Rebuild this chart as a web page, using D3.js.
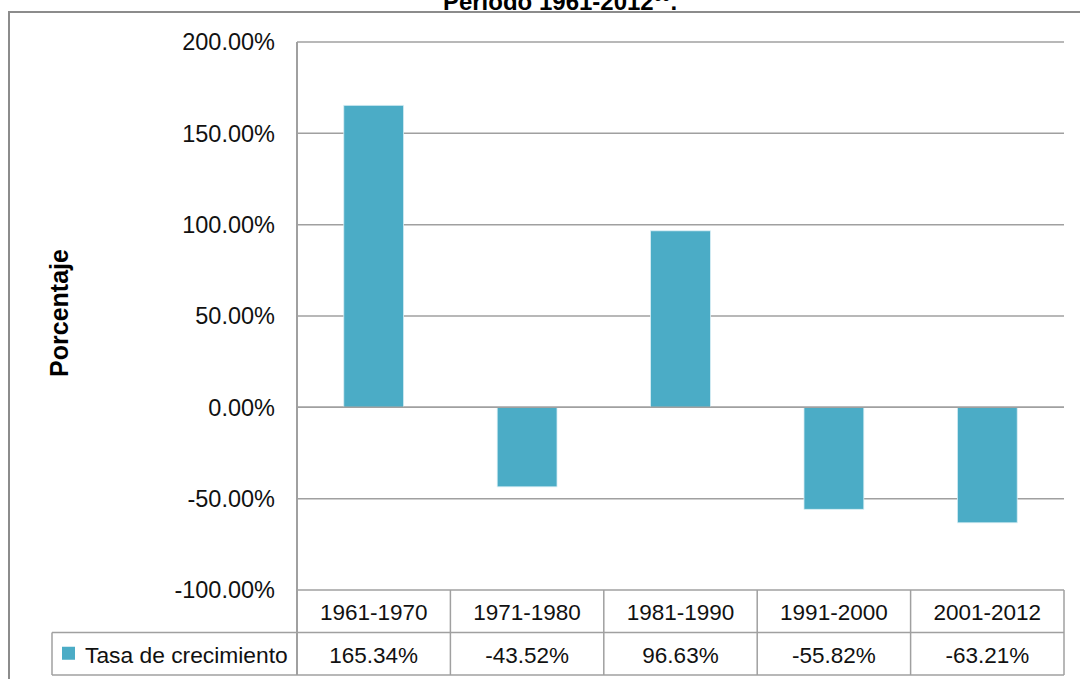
<!DOCTYPE html>
<html>
<head>
<meta charset="utf-8">
<script src="https://cdn.jsdelivr.net/npm/d3@7"></script>
<style>
  body { margin: 0; background: #fff; }
  svg { display: block; font-family: "Liberation Sans", Arial, sans-serif; }
</style>
</head>
<body>
<div id="chart"></div>
<script>
const categories = ["1961-1970", "1971-1980", "1981-1990", "1991-2000", "2001-2012"];
const values = [165.34, -43.52, 96.63, -55.82, -63.21];
const valueLabels = ["165.34%", "-43.52%", "96.63%", "-55.82%", "-63.21%"];
const yTicks = [200, 150, 100, 50, 0, -50, -100];
const seriesName = "Tasa de crecimiento";

const W = 1080, H = 679;
const plotLeft = 297, plotRight = 1064, plotTop = 42, plotBottom = 590;
const rowH = 42.5;

const svg = d3.select("#chart").append("svg")
  .attr("width", W).attr("height", H);

// outer chart border
svg.append("rect")
  .attr("x", 9).attr("y", 12)
  .attr("width", W + 20).attr("height", H + 20)
  .attr("fill", "none").attr("stroke", "#8c8c8c").attr("stroke-width", 2);

// clipped title
svg.append("text")
  .attr("x", 560).attr("y", 10)
  .attr("text-anchor", "middle")
  .style("font-size", "24px").style("font-weight", "bold").attr("fill", "#000")
  .call(t => {
    t.append("tspan").text("Periodo 1961-2012");
    t.append("tspan").attr("dy", -9).style("font-size", "15px").text("60");
    t.append("tspan").attr("dy", 9).text(".");
  });

const x = d3.scaleBand().domain(categories).range([plotLeft, plotRight]).paddingInner(0.61).paddingOuter(0.305);
const xCol = d3.scaleBand().domain(categories).range([plotLeft, plotRight]);
const y = d3.scaleLinear().domain([-100, 200]).range([plotBottom, plotTop]);

// gridlines
svg.append("g").selectAll("line").data(yTicks).join("line")
  .attr("x1", plotLeft).attr("x2", plotRight)
  .attr("y1", d => y(d)).attr("y2", d => y(d))
  .attr("stroke", "#a0a0a0").attr("stroke-width", 1.5);

// y tick labels
svg.append("g").selectAll("text").data(yTicks).join("text")
  .attr("x", 275).attr("y", d => y(d))
  .attr("dy", "0.36em")
  .attr("text-anchor", "end")
  .style("font-size", "23.5px").attr("fill", "#111")
  .text(d => d.toFixed(2) + "%");

// bars
svg.append("g").selectAll("rect").data(values).join("rect")
  .attr("x", (d, i) => x(categories[i]))
  .attr("width", x.bandwidth())
  .attr("y", d => y(Math.max(0, d)))
  .attr("height", d => Math.abs(y(d) - y(0)))
  .attr("fill", "#4bacc6")
  .attr("stroke", "#d8eef4").attr("stroke-width", 0.8);

// zero line over bars
svg.append("line")
  .attr("x1", plotLeft).attr("x2", plotRight).attr("y1", y(0)).attr("y2", y(0))
  .attr("stroke", "#a0a0a0").attr("stroke-width", 1.5);

// y axis
const tableBottom = plotBottom + 2 * rowH;
svg.append("line")
  .attr("x1", plotLeft).attr("x2", plotLeft).attr("y1", plotTop).attr("y2", tableBottom)
  .attr("stroke", "#a0a0a0").attr("stroke-width", 2);

// data table
const legendLeft = 52;
const tbl = svg.append("g").attr("stroke", "#a0a0a0").attr("stroke-width", 1.5);
tbl.append("line").attr("x1", legendLeft).attr("x2", plotRight)
  .attr("y1", plotBottom + rowH).attr("y2", plotBottom + rowH);
tbl.append("line").attr("x1", legendLeft).attr("x2", plotRight)
  .attr("y1", tableBottom).attr("y2", tableBottom);
tbl.append("line").attr("x1", legendLeft).attr("x2", legendLeft)
  .attr("y1", plotBottom + rowH).attr("y2", tableBottom);
tbl.selectAll(".col").data(categories).join("line")
  .attr("class", "col")
  .attr("x1", d => xCol(d) + xCol.bandwidth()).attr("x2", d => xCol(d) + xCol.bandwidth())
  .attr("y1", plotBottom).attr("y2", tableBottom);

svg.append("g").selectAll("text").data(categories).join("text")
  .attr("x", d => xCol(d) + xCol.bandwidth() / 2)
  .attr("y", plotBottom + rowH / 2 + 1)
  .attr("dy", "0.36em").attr("text-anchor", "middle")
  .style("font-size", "22.5px").attr("fill", "#111")
  .text(d => d);

svg.append("g").selectAll("text").data(valueLabels).join("text")
  .attr("x", (d, i) => xCol(categories[i]) + xCol.bandwidth() / 2)
  .attr("y", plotBottom + rowH * 1.5 + 1)
  .attr("dy", "0.36em").attr("text-anchor", "middle")
  .style("font-size", "22.5px").attr("fill", "#111")
  .text(d => d);

// legend key in table
svg.append("rect")
  .attr("x", 62).attr("y", plotBottom + rowH * 1.5 - 7)
  .attr("width", 13).attr("height", 13)
  .attr("fill", "#4bacc6");
svg.append("text")
  .attr("x", 85).attr("y", plotBottom + rowH * 1.5 + 1)
  .attr("dy", "0.36em")
  .style("font-size", "22.8px").attr("fill", "#111")
  .text(seriesName);

// y axis title
svg.append("text")
  .attr("transform", "translate(68,313) rotate(-90)")
  .attr("text-anchor", "middle")
  .style("font-size", "25px").style("font-weight", "bold").attr("fill", "#000")
  .text("Porcentaje");
</script>
</body>
</html>
